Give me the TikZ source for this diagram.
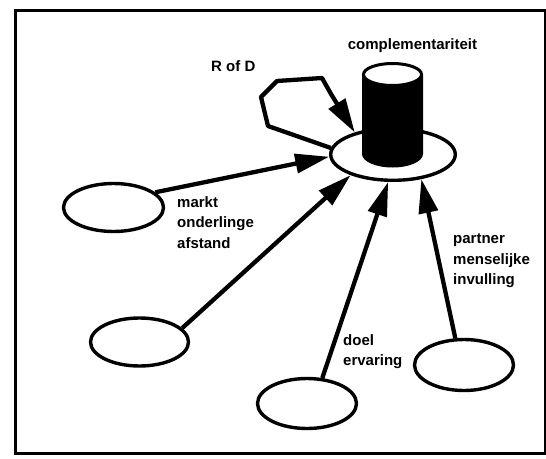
\documentclass[tikz,border=0pt]{standalone}
\usepackage{fontspec}
\setmainfont{Liberation Sans}
\usetikzlibrary{arrows.meta,shapes.geometric}

\tikzset{
  frame/.style={line width=3pt},
  blob/.style={ellipse, draw, line width=3.4pt, fill=white, inner sep=0pt,
               minimum width=99pt, minimum height=49pt},
  hub/.style={ellipse, draw, line width=3.4pt, fill=white, inner sep=0pt,
              minimum width=124.6pt, minimum height=51.6pt},
  link/.style={line width=4.3pt, line join=round,
               -{Triangle[length=34pt,width=19pt]}},
  lbl/.style={font=\fontsize{15}{20.5}\selectfont\bfseries, inner sep=0pt,
              align=left}
}

\begin{document}
\begin{tikzpicture}[x=1pt,y=-1pt]
  \useasboundingbox (0,0) rectangle (546,458);
  \draw[frame] (15,10) rectangle (545,453.5);

  % central ellipse and the cylinder standing on it
  \node[hub] (M) at (393,154.5) {};
  \fill (362,74.5) -- (362,154) arc (180:0:30.5 and 13.5) -- (423,74.5) -- cycle;
  \draw[line width=3pt, fill=white] (392.5,74.5) ellipse (29 and 11);
  \node[lbl, anchor=base] (comp) at (412.5,49) {complementariteit};

  % outer ellipses
  \node[blob, minimum width=100pt, minimum height=48pt] (A) at (113.5,207.5) {};
  \node[blob, minimum width=98pt, minimum height=48pt] (B) at (139.5,342) {};
  \node[blob, minimum width=99pt, minimum height=50pt] (C) at (307,403.5) {};
  \node[blob, minimum width=99pt, minimum height=51pt] (D) at (464,365) {};

  % connectors into the central ellipse
  \draw[link] (A.20.5) -- (M.182);
  \draw[link] (B.18) -- (M.206);
  \draw[link] (C.59) -- (M.260);
  \draw[link] (D.108) -- (M.319);

  % self loop
  \draw[link] (M.174) -- (268,126) -- (261,97) -- (277,81) -- (322,78)
              -- (331,94) -- (M.150);

  % labels
  \node[lbl, anchor=base west] (rod) at (211,71) {R of D};
  \node[lbl, anchor=north west] (lA) at (177,196) {markt\\onderlinge\\afstand};
  \node[lbl, anchor=north west] (lC) at (343,334) {doel\\ervaring};
  \node[lbl, anchor=north west] (lD) at (453,234) {partner\\menselijke\\invulling};
\end{tikzpicture}
\end{document}
